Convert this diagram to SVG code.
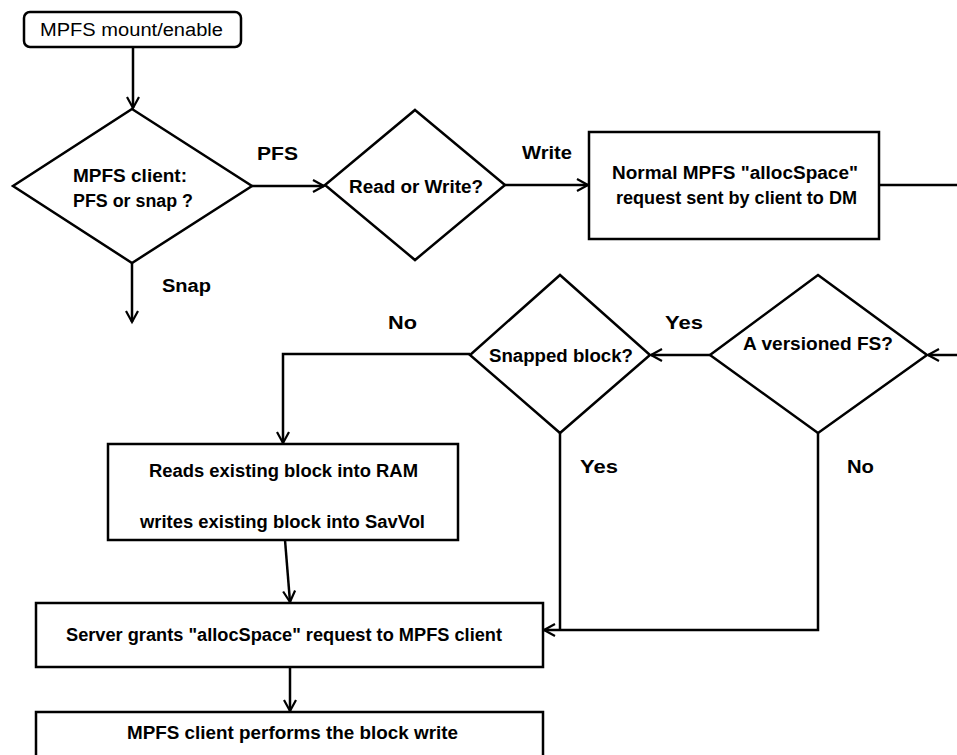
<svg xmlns="http://www.w3.org/2000/svg" width="957" height="755" viewBox="0 0 957 755">
<style>
.shape{fill:#fff;stroke:#000;stroke-width:2.5}
.t{font-family:"Liberation Sans",Arial,sans-serif;font-size:18px;font-weight:bold;fill:#000}
.n{font-family:"Liberation Sans",Arial,sans-serif;font-size:18px;fill:#000}
.c{fill:none;stroke:#000;stroke-width:2.5}
</style>
<defs>
<marker id="arr" markerUnits="userSpaceOnUse" markerWidth="16" markerHeight="16" refX="12" refY="7" orient="auto">
<path d="M1,1 L12,7 L1,13" fill="none" stroke="#000" stroke-width="2.2"/>
</marker>
</defs>
<g id="connectors">
<line class="c" x1="133" y1="47" x2="133" y2="108" marker-end="url(#arr)"/>
<line class="c" x1="252" y1="186" x2="324" y2="186" marker-end="url(#arr)"/>
<line class="c" x1="132" y1="263" x2="132" y2="322" marker-end="url(#arr)"/>
<line class="c" x1="505" y1="185" x2="588" y2="185" marker-end="url(#arr)"/>
<line class="c" x1="879" y1="185" x2="957" y2="185"/>
<line class="c" x1="957" y1="355" x2="928" y2="355" marker-end="url(#arr)"/>
<line class="c" x1="710" y1="355" x2="651" y2="355" marker-end="url(#arr)"/>
<polyline class="c" points="470,354 283,354 283,443" marker-end="url(#arr)"/>
<line class="c" x1="285" y1="540" x2="290" y2="602" marker-end="url(#arr)"/>
<line class="c" x1="560" y1="433" x2="560" y2="630"/>
<polyline class="c" points="818,433 818,630 544,630" marker-end="url(#arr)"/>
<line class="c" x1="290" y1="667" x2="290" y2="711" marker-end="url(#arr)"/>
<text class="t" x="257" y="160" textLength="41" lengthAdjust="spacingAndGlyphs">PFS</text>
<text class="t" x="162" y="292" textLength="49" lengthAdjust="spacingAndGlyphs">Snap</text>
<text class="t" x="522" y="159" textLength="50" lengthAdjust="spacingAndGlyphs">Write</text>
<text class="t" x="665" y="329" textLength="38" lengthAdjust="spacingAndGlyphs">Yes</text>
<text class="t" x="388" y="329" textLength="29" lengthAdjust="spacingAndGlyphs">No</text>
<text class="t" x="580" y="473" textLength="38" lengthAdjust="spacingAndGlyphs">Yes</text>
<text class="t" x="847" y="473" textLength="27" lengthAdjust="spacingAndGlyphs">No</text>
</g>
<g id="start">
<rect class="shape" x="24" y="12" width="217" height="35" rx="6"/>
<text class="n" x="40" y="36" textLength="183" lengthAdjust="spacingAndGlyphs">MPFS mount/enable</text>
</g>
<g id="d-client">
<polygon class="shape" points="132,109 252,186 132,263 13,186"/>
<text class="t" x="73" y="182" textLength="114" lengthAdjust="spacingAndGlyphs">MPFS client:</text>
<text class="t" x="73" y="207" textLength="120" lengthAdjust="spacingAndGlyphs">PFS or snap ?</text>
</g>
<g id="d-rw">
<polygon class="shape" points="415,110 505,185 415,260 325,185"/>
<text class="t" x="349" y="193" textLength="134" lengthAdjust="spacingAndGlyphs">Read or Write?</text>
</g>
<g id="normal">
<rect class="shape" x="589" y="132" width="290" height="107"/>
<text class="t" x="612" y="179" textLength="246" lengthAdjust="spacingAndGlyphs">Normal MPFS "allocSpace"</text>
<text class="t" x="616" y="204" textLength="241" lengthAdjust="spacingAndGlyphs">request sent by client to DM</text>
</g>
<g id="d-versioned">
<polygon class="shape" points="818,275 927,355 818,433 710,355"/>
<text class="t" x="743" y="350" textLength="150" lengthAdjust="spacingAndGlyphs">A versioned FS?</text>
</g>
<g id="d-snapped">
<polygon class="shape" points="560,275 650,355 560,433 470,355"/>
<text class="t" x="489" y="362" textLength="144" lengthAdjust="spacingAndGlyphs">Snapped block?</text>
</g>
<g id="reads">
<rect class="shape" x="108" y="444" width="350" height="96"/>
<text class="t" x="149" y="477" textLength="269" lengthAdjust="spacingAndGlyphs">Reads existing block into RAM</text>
<text class="t" x="140" y="528" textLength="285" lengthAdjust="spacingAndGlyphs">writes existing block into SavVol</text>
</g>
<g id="grant">
<rect class="shape" x="36" y="603" width="507" height="64"/>
<text class="t" x="66" y="641" textLength="436" lengthAdjust="spacingAndGlyphs">Server grants "allocSpace" request to MPFS client</text>
</g>
<g id="write">
<rect class="shape" x="36" y="712" width="507" height="60"/>
<text class="t" x="127" y="739" textLength="331" lengthAdjust="spacingAndGlyphs">MPFS client performs the block write</text>
</g>
</svg>
